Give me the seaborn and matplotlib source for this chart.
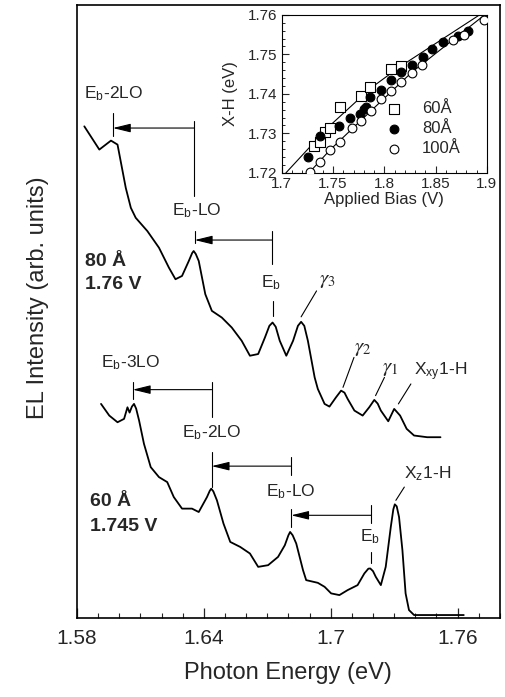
import numpy as np
import pandas as pd
import matplotlib
matplotlib.use('Agg')
import matplotlib.pyplot as plt
import seaborn as sns
from matplotlib.ticker import MultipleLocator, FormatStrFormatter

# ---- ana spektrumlar (foton enerjisi eV, EL siddeti keyfi birim) ----
energy_80 = [1.5835, 1.5906, 1.5961, 1.5992, 1.6031, 1.6055, 1.6078, 1.6133, 1.6188,
             1.6235, 1.6266, 1.6297, 1.6329, 1.6345, 1.6352, 1.6362, 1.6376, 1.6407,
             1.6438, 1.6485, 1.6532, 1.6579, 1.6618, 1.6657, 1.6689, 1.6710, 1.6725,
             1.6740, 1.6759, 1.6790, 1.6822, 1.6845, 1.6860, 1.6875, 1.6892, 1.6924,
             1.6939, 1.6971, 1.6994, 1.7025, 1.7049, 1.7065, 1.7080, 1.7112, 1.7151,
             1.7182, 1.7206, 1.7222, 1.7237, 1.7272, 1.7300, 1.7328, 1.7359, 1.7394,
             1.7456, 1.7519]
intensity_80 = [493, 469.7, 478.7, 474.7, 431.3, 411.3, 401.3, 388, 371.3,
                351.3, 339.7, 343, 358, 366, 368, 365, 358, 324.7,
                308, 301.3, 291.3, 278, 263, 264.7, 281.3, 293, 296.3,
                292, 278, 263, 278, 293, 297, 293, 278, 241.3,
                229.7, 214.7, 212, 221.3, 228, 226, 219.7, 208, 203,
                211.3, 218.7, 215, 208, 197.3, 209.7, 203, 189.7, 183,
                181.3, 181.3]

energy_60 = [1.5914, 1.5953, 1.5992, 1.6023, 1.6039, 1.6049, 1.6060, 1.6070, 1.6080,
             1.6094, 1.6117, 1.6149, 1.6188, 1.6227, 1.6258, 1.6297, 1.6344, 1.6376,
             1.6415, 1.6428, 1.6435, 1.6445, 1.6462, 1.6493, 1.6525, 1.6572, 1.6618,
             1.6657, 1.6704, 1.6751, 1.6783, 1.6800, 1.6808, 1.6820, 1.6837, 1.6869,
             1.6884, 1.6939, 1.6971, 1.7002, 1.7041, 1.7080, 1.7127, 1.7159, 1.7178,
             1.7187, 1.7200, 1.7213, 1.7237, 1.7260, 1.7284, 1.7296, 1.7303, 1.7312,
             1.7323, 1.7339, 1.7354, 1.7370, 1.7394, 1.7500, 1.7629]
intensity_60 = [214.7, 203, 196.3, 199.7, 211.3, 206, 212, 214.7, 210,
                198, 174.7, 151.3, 141.3, 136.3, 121.3, 109.7, 109.7, 106.3,
                121.3, 127.5, 129.7, 127, 118, 94.7, 76.3, 71.3, 64.7,
                51.3, 53, 61.3, 73, 83, 86.3, 83, 74.7, 48,
                38, 35.3, 31.3, 24.7, 23, 28, 33, 44.7, 49.5,
                49.7, 47, 41.3, 33, 51.3, 91.3, 109, 114, 112,
                101.3, 68, 24.7, 8, 3, 3, 3]

# ---- ic grafik: X-H enerjisi vs uygulanan gerilim ----
bias_60 = [1.7317, 1.7375, 1.7423, 1.7471, 1.7567, 1.7776, 1.7865, 1.8064, 1.8160]
xh_60 = [1.7268, 1.7279, 1.7304, 1.7313, 1.7366, 1.7395, 1.7417, 1.7462, 1.7471]

bias_80 = [1.7258, 1.7368, 1.7561, 1.7670, 1.7766, 1.7801, 1.7824, 1.7865, 1.7968,
           1.8064, 1.8160, 1.8266, 1.8375, 1.8465, 1.8577, 1.8715, 1.8817]
xh_80 = [1.7240, 1.7293, 1.7319, 1.7340, 1.7349, 1.7361, 1.7367, 1.7393, 1.7410,
         1.7435, 1.7456, 1.7473, 1.7494, 1.7513, 1.7530, 1.7547, 1.7560]

bias_100 = [1.7279, 1.7375, 1.7471, 1.7567, 1.7680, 1.7776, 1.7872, 1.7968, 1.8064,
            1.8160, 1.8266, 1.8368, 1.8673, 1.8779, 1.8971]
xh_100 = [1.7203, 1.7228, 1.7258, 1.7279, 1.7313, 1.7332, 1.7357, 1.7386, 1.7408,
          1.7431, 1.7453, 1.7473, 1.7537, 1.7549, 1.7586]

fit_a_bias = [1.7040, 1.7450, 1.7870, 1.8160, 1.8930]
fit_a_xh = [1.7200, 1.7315, 1.7415, 1.7470, 1.7600]
fit_b_bias = [1.7265, 1.7470, 1.7870, 1.8270, 1.8980]
fit_b_xh = [1.7200, 1.7258, 1.7357, 1.7455, 1.7600]

inset_xticks = [1.7, 1.75, 1.8, 1.85, 1.9]
inset_xticklabels = ['1.7', '1.75', '1.8', '1.85', '1.9']

# ---- stil ----
sns.set_style('ticks')
plt.rcParams['font.family'] = ['Liberation Sans', 'DejaVu Sans']
plt.rcParams['mathtext.fontset'] = 'stix'
plt.rcParams['axes.edgecolor'] = 'black'

fig = plt.figure(figsize=(5.06, 6.97), dpi=100)
ax = fig.add_axes([0.152, 0.1133, 0.836, 0.880])

spec80 = pd.DataFrame({'E': energy_80, 'I': intensity_80})
spec60 = pd.DataFrame({'E': energy_60, 'I': intensity_60})
sns.lineplot(data=spec80, x='E', y='I', sort=False, estimator=None, color='black', lw=1.3, ax=ax)
sns.lineplot(data=spec60, x='E', y='I', sort=False, estimator=None, color='black', lw=1.3, ax=ax)

ax.set_frame_on(True)
for side in ['top', 'right', 'left', 'bottom']:
    ax.spines[side].set_visible(True)
    ax.spines[side].set_color('black')
    ax.spines[side].set_linewidth(1.2)
    ax.spines[side].set_zorder(5)

ax.set_xlim(1.58, 1.78)
ax.set_ylim(0, 615)
ax.set_xticks([1.58, 1.64, 1.70, 1.76])
ax.set_xticklabels(['1.58', '1.64', '1.7', '1.76'])
ax.xaxis.set_minor_locator(MultipleLocator(0.01))
ax.set_yticks([])
ax.tick_params(axis='x', which='major', direction='in', length=7, width=0.9, labelsize=15, pad=8)
ax.tick_params(axis='x', which='minor', direction='in', length=3.5, width=0.8)
ax.set_xlabel('Photon Energy (eV)', fontsize=17, labelpad=10)
ax.set_ylabel('EL Intensity (arb. units)', fontsize=17)
ax.yaxis.set_label_coords(-0.066, 0.522)

LW = 0.8
LBL = 12.5


def bracket(x_left, x_right, y_arrow, tick_span, line_span):
    # sol tarafta kisa dikey cizgi, sagda uzun dikey cizgi, aradaki ok sola bakar
    ax.plot([x_left, x_left], tick_span, color='k', lw=LW)
    ax.plot([x_right, x_right], line_span, color='k', lw=LW)
    ax.annotate('', xy=(x_left, y_arrow), xytext=(x_right, y_arrow),
                arrowprops=dict(arrowstyle='-|>,head_length=0.9,head_width=0.22',
                                color='k', lw=LW, mutation_scale=12, shrinkA=0, shrinkB=0))


def label(x, y, s, size=LBL):
    ax.text(x, y, s, fontsize=size, ha='center', va='center')


eb = r'E$_{\mathregular{b}}$'

# ust spektrum (80 A)
label(1.5974, 526, eb + '-2LO')
bracket(1.5970, 1.6354, 491.3, [483, 506.3], [423, 498])
label(1.6366, 408, eb + '-LO')
bracket(1.6357, 1.6722, 379, [376.3, 388], [355, 388])
label(1.6720, 336, eb)
ax.plot([1.6726, 1.6726], [303, 318], color='k', lw=LW)
label(1.6983, 338, r'$\gamma_{3}$', 15)
ax.plot([1.6933, 1.6860], [328, 302], color='k', lw=LW)
label(1.7152, 270, r'$\gamma_{2}$', 15)
ax.plot([1.7110, 1.7058], [261.3, 231.3], color='k', lw=LW)
label(1.7279, 250, r'$\gamma_{1}$', 15)
ax.plot([1.7254, 1.7212], [241.3, 223], color='k', lw=LW)
label(1.7518, 247, r'X$_{\mathregular{xy}}$1-H')
ax.plot([1.7379, 1.7320], [234.7, 214.7], color='k', lw=LW)
ax.text(1.5838, 357, '80 Å', fontsize=14, fontweight='bold', va='center')
ax.text(1.5838, 334.5, '1.76 V', fontsize=14, fontweight='bold', va='center')

# alt spektrum (60 A)
label(1.6056, 256, eb + '-3LO')
bracket(1.6064, 1.6437, 229, [219.7, 236.3], [201.3, 236.3])
label(1.6439, 186, eb + '-2LO')
bracket(1.6437, 1.6811, 152.3, [131.3, 166.3], [143, 161.3])
label(1.6809, 127, eb + '-LO')
bracket(1.6813, 1.7191, 103, [91, 109], [95, 113])
label(1.7185, 81, eb)
ax.plot([1.7191, 1.7191], [54.7, 66.3], color='k', lw=LW)
label(1.7457, 145, r'X$_{\mathregular{z}}$1-H')
ax.plot([1.7348, 1.7308], [131.3, 118], color='k', lw=LW)
ax.text(1.5861, 116.5, '60 Å', fontsize=14, fontweight='bold', va='center')
ax.text(1.5861, 91.5, '1.745 V', fontsize=14, fontweight='bold', va='center')

# ---- ic grafik ----
ins = fig.add_axes([0.557, 0.752, 0.405, 0.2267])
sns.lineplot(x=fit_a_bias, y=fit_a_xh, color='k', lw=0.8, ax=ins)
sns.lineplot(x=fit_b_bias, y=fit_b_xh, color='k', lw=0.8, ax=ins)
sns.scatterplot(x=bias_60, y=xh_60, marker='s', s=52, facecolor='white', edgecolor='k',
                linewidth=0.8, label='60Å', ax=ins, zorder=3)
sns.scatterplot(x=bias_80, y=xh_80, marker='o', s=40, color='k', edgecolor='k',
                linewidth=0.8, label='80Å', ax=ins, zorder=3)
sns.scatterplot(x=bias_100, y=xh_100, marker='o', s=40, facecolor='white', edgecolor='k',
                linewidth=0.8, label='100Å', ax=ins, zorder=3)
ins.set_xlim(1.7, 1.9)
ins.set_ylim(1.72, 1.76)
ins.set_xticks(inset_xticks)
ins.set_xticklabels(inset_xticklabels)
ins.xaxis.set_minor_locator(MultipleLocator(0.01))
ins.yaxis.set_major_locator(MultipleLocator(0.01))
ins.yaxis.set_minor_locator(MultipleLocator(0.002))
ins.yaxis.set_major_formatter(FormatStrFormatter('%.2f'))
ins.tick_params(which='major', direction='in', length=5, width=0.8, labelsize=11, pad=3)
ins.tick_params(which='minor', direction='in', length=2.5, width=0.7)
ins.set_xlabel('Applied Bias (V)', fontsize=12, labelpad=1)
ins.set_ylabel('X-H (eV)', fontsize=12, labelpad=7)
ins.legend(loc='lower right', bbox_to_anchor=(0.93, 0.03), frameon=False, fontsize=12,
           handlelength=1.4, handletextpad=1.0, labelspacing=0.3, borderpad=0.2)

fig.savefig('out.png', dpi=100)
